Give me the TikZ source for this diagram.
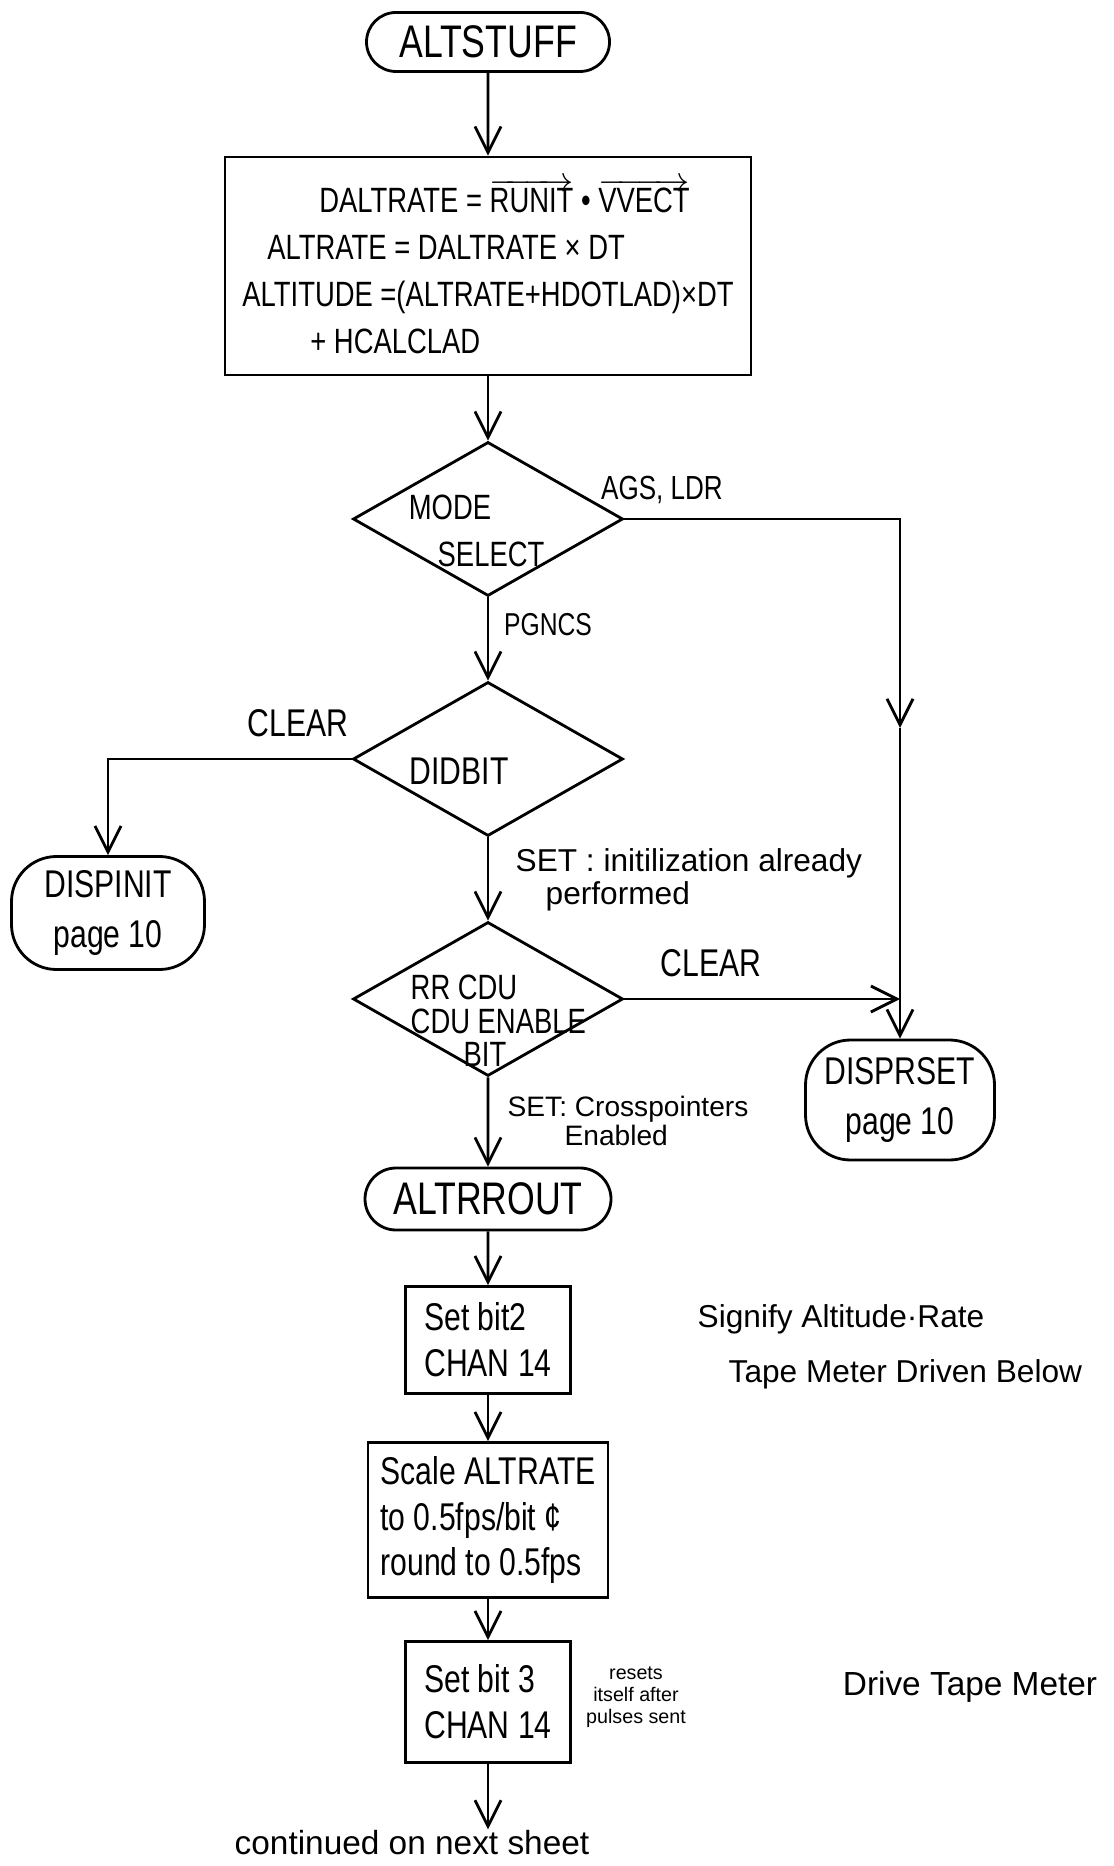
\documentclass[tikz,border=0pt]{standalone}
\usepackage{fontspec}
\setmainfont{Liberation Sans}[FakeStretch=0.78]
\newfontfamily\notefont{Liberation Sans}
\usepackage{tikz}
\usetikzlibrary{arrows.meta}
\usetikzlibrary{shapes.geometric,shapes.misc}

\begin{document}
\begin{tikzpicture}[>={Straight Barb[length=2.6mm,width=2.6mm]}, node distance=2.4cm]
				\tikzstyle{term} = [draw, thick, rounded rectangle, minimum width=2.43cm, minimum height=0.59cm, inner sep=0pt, font=\fontsize{13}{15}\selectfont]
				\tikzstyle{offpage} = [draw, thick, rounded corners=0.45cm, align=center, inner sep=0pt, font=\fontsize{11}{14.5}\selectfont]
				\tikzstyle{block} = [draw, thick, align=left, inner sep=0pt, font=\fontsize{11}{13}\selectfont]
				\tikzstyle{decision} = [draw, thick, diamond, minimum width=2.70cm, minimum height=1.54cm, inner sep=0pt]
				\tikzstyle{intext} = [inner sep=0pt, font=\fontsize{10}{9.5}\selectfont]
				\tikzstyle{note} = [inner sep=0pt, font=\fontsize{10}{11}\selectfont]
				\useasboundingbox (0,0) rectangle (11.13,-18.66);
				% main chain
				\path[->, thick]
				node[term] (alt) at (4.88,-0.42) {ALTSTUFF}
				node[block, below of=alt, yshift=0.16cm, minimum width=5.26cm, minimum height=2.18cm, font=\fontsize{10}{13.4}\selectfont] (eqs)
					{\hspace*{0.77cm}DALTRATE = $\overrightarrow{\mbox{RUNIT}}$ • $\overrightarrow{\mbox{VVECT}}$\\
					 \hspace*{0.25cm}ALTRATE = DALTRATE × DT\\
					 ALTITUDE =(ALTRATE+HDOTLAD)×DT\\
					 \hspace*{0.68cm}+ HCALCLAD}
				node[decision, below of=eqs, yshift=-0.13cm] (mode) {}
				node[decision, below of=mode] (didbit) {}
				node[decision, below of=didbit] (rrcdu) {}
				node[term, below of=rrcdu, yshift=0.40cm, minimum width=2.46cm, minimum height=0.62cm] (altr) {ALTRROUT}
				node[block, below of=altr, yshift=0.99cm, minimum width=1.65cm, minimum height=1.07cm] (bittwo) {Set bit2\\CHAN 14}
				node[block, below of=bittwo, yshift=0.60cm, minimum width=2.40cm, minimum height=1.55cm] (scale) {Scale ALTRATE\\to 0.5fps/bit ¢\\round to 0.5fps}
				node[block, below of=scale, yshift=0.58cm, minimum width=1.65cm, minimum height=1.21cm] (bitthree) {Set bit 3\\CHAN 14}
				node[note, font=\notefont\fontsize{9.5}{11}\selectfont] (cont) at (4.12,-18.43) {continued on next sheet}
				(alt) edge (eqs)
				(eqs) edge (mode)
				(mode) edge (didbit)
				(didbit) edge (rrcdu)
				(rrcdu) edge (altr)
				(altr) edge (bittwo)
				(bittwo) edge (scale)
				(scale) edge (bitthree)
				(bitthree) edge (bitthree.south |- cont.north)
				;
				% texts in the decisions
				\node[intext] (modetxt) at ([shift={(-0.38,0.12)}]mode.center) {MODE};
				\node[intext] (selecttxt) at ([shift={(0.03,-0.35)}]mode.center) {SELECT};
				\node[intext, font=\fontsize{11}{11}\selectfont] (didbittxt) at ([shift={(-0.29,-0.12)}]didbit.center) {DIDBIT};
				\node[intext, anchor=west, align=left] (rrcdutxt) at ([shift={(-0.78,-0.22)}]rrcdu.center) {RR CDU\\CDU ENABLE\\\hspace*{0.53cm}BIT};
				% side exits
				\node[offpage, minimum width=1.93cm, minimum height=1.13cm] (dispinit) at (1.08,-9.13) {DISPINIT\\page 10};
				\node[offpage, minimum width=1.89cm, minimum height=1.20cm] (dispr) at (9.00,-11.00) {DISPRSET\\page 10};
				\coordinate (jmid) at (9.00,-7.28);
				\draw[->, thick] (mode.east) -| (jmid);
				\draw[->, thick] (jmid) -- (dispr.north);
				\draw[->, thick] (didbit.west) -| (dispinit.north);
				\draw[->, thick] (rrcdu.east) -- (rrcdu.east -| dispr.north);
				% branch labels and remarks
				\node[note, font=\fontsize{9.5}{11}\selectfont] (agsldr) at (6.62,-4.90) {AGS, LDR};
				\node[note, font=\fontsize{9}{11}\selectfont] (pgncs) at (5.48,-6.25) {PGNCS};
				\node[note, font=\fontsize{11}{11}\selectfont] (clra) at (2.98,-7.23) {CLEAR};
				\node[note, font=\fontsize{11}{11}\selectfont] (clrb) at (7.11,-9.63) {CLEAR};
				\node[note, anchor=west, align=left, font=\notefont\fontsize{9}{7.6}\selectfont] (seta) at (5.15,-8.80) {SET : initilization already\\\hspace*{0.30cm}performed};
				\node[note, anchor=west, align=left, font=\notefont\fontsize{8}{7}\selectfont] (setb) at (5.07,-11.21) {SET: Crosspointers\\\hspace*{0.57cm}Enabled};
				\node[note, anchor=west, align=left, font=\notefont\fontsize{9}{15.5}\selectfont] (signify) at (6.97,-13.47) {Signify Altitude·Rate\\\hspace*{0.31cm}Tape Meter Driven Below};
				\node[note, align=center, font=\notefont\fontsize{5.6}{6.2}\selectfont] (resets) at (6.36,-16.97) {resets\\itself after\\pulses sent};
				\node[note, font=\notefont\fontsize{9.5}{11}\selectfont] (drive) at (9.70,-16.87) {Drive Tape Meter};
			\end{tikzpicture}
\end{document}
